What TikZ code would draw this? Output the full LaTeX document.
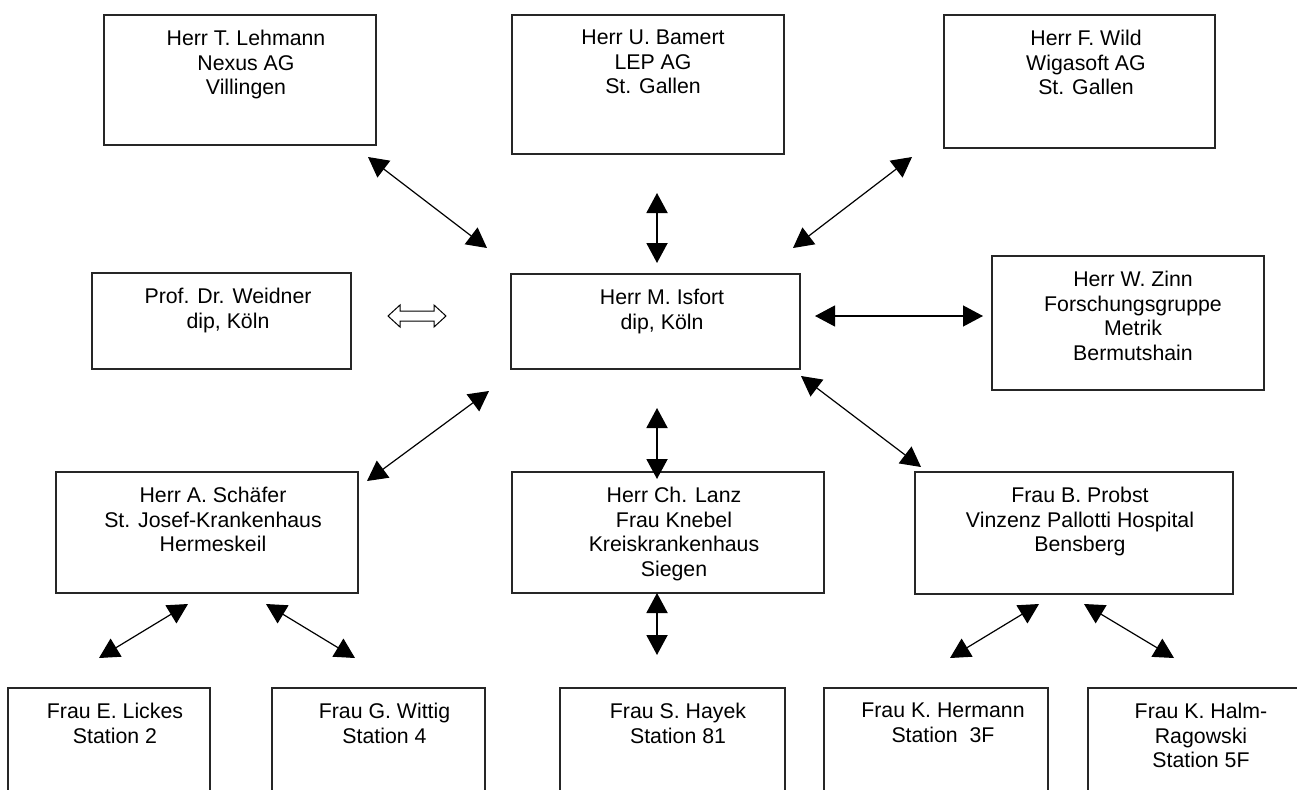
\documentclass[tikz,border=0pt]{standalone}
\usepackage{fontspec}
\setmainfont{Liberation Sans}
\usetikzlibrary{arrows.meta}
\tikzset{
  box/.style={draw=black!85, line width=1.2pt, rectangle, inner sep=0pt, fill=none},
  txt/.style={anchor=north, inner sep=0pt, align=center, font=\fontsize{21.3}{24.5}\selectfont},
  link/.style={line width=1.2pt, {Triangle[length=20pt,width=21pt]}-{Triangle[length=20pt,width=21pt]}},
  vlink/.style={line width=2pt, {Triangle[length=20pt,width=21pt]}-{Triangle[length=20pt,width=21pt]}}
}
\begin{document}
\begin{tikzpicture}[x=1pt,y=-1pt]
\path[use as bounding box] (0,0) rectangle (1297,789);
\clip (0,0) rectangle (1297,789);
% boxes
\node[box, minimum width=272pt, minimum height=130pt] (lehmann) at (240,80) {};
\node[box, minimum width=272pt, minimum height=139pt] (bamert) at (648,84.5) {};
\node[box, minimum width=271pt, minimum height=133pt] (wild) at (1079.5,81.5) {};
\node[box, minimum width=259pt, minimum height=96pt] (weidner) at (221.5,321) {};
\node[box, minimum width=289pt, minimum height=95pt] (isfort) at (655.5,321.5) {};
\node[box, minimum width=272pt, minimum height=134pt] (zinn) at (1128,323) {};
\node[box, minimum width=302pt, minimum height=121pt] (schaefer) at (207,532.5) {};
\node[box, minimum width=312pt, minimum height=121pt] (lanz) at (668,532.5) {};
\node[box, minimum width=318pt, minimum height=122pt] (probst) at (1074,533) {};
\node[box, minimum width=202pt, minimum height=122pt] (lickes) at (109,749) {};
\node[box, minimum width=213pt, minimum height=122pt] (wittig) at (378.5,749) {};
\node[box, minimum width=225pt, minimum height=122pt] (hayek) at (672.5,749) {};
\node[box, minimum width=224pt, minimum height=122pt] (hermann) at (936,749) {};
\node[box, minimum width=232pt, minimum height=122pt] (halm) at (1204,749) {};
% texts
\node[txt] (lehmann-t) at (246,30) {Herr T. Lehmann\\Nexus AG\\Villingen};
\node[txt] (bamert-t) at (653,30) {Herr U. Bamert\\LEP AG\\St. Gallen};
\node[txt] (wild-t) at (1086,30) {Herr F. Wild\\Wigasoft AG\\St. Gallen};
\node[txt] (weidner-t) at (228,288) {Prof. Dr. Weidner\\dip, Köln};
\node[txt] (isfort-t) at (662,289) {Herr M. Isfort\\dip, Köln};
\node[txt] (zinn-t) at (1133,271) {Herr W. Zinn\\Forschungsgruppe\\Metrik\\Bermutshain};
\node[txt] (schaefer-t) at (213,487) {Herr A. Schäfer\\St. Josef-Krankenhaus\\Hermeskeil};
\node[txt] (lanz-t) at (674,487) {Herr Ch. Lanz\\Frau Knebel\\Kreiskrankenhaus\\Siegen};
\node[txt] (probst-t) at (1080,487) {Frau B. Probst\\Vinzenz Pallotti Hospital\\Bensberg};
\node[txt] (lickes-t) at (115,703) {Frau E. Lickes\\Station 2};
\node[txt] (wittig-t) at (384.5,703) {Frau G. Wittig\\Station 4};
\node[txt] (hayek-t) at (678,703) {Frau S. Hayek\\Station 81};
\node[txt] (hermann-t) at (943,703) {Frau K. Hermann\\Station\ \ 3F};
\node[txt] (halm-t) at (1201,703) {Frau K. Halm-\\Ragowski\\Station 5F};
% arrow end points
\coordinate (a1) at (368,157); \coordinate (b1) at (487,248);
\coordinate (a2) at (657,193); \coordinate (b2) at (657,263);
\coordinate (a3) at (912,157); \coordinate (b3) at (793,248);
\coordinate (a4) at (815,316); \coordinate (b4) at (983,316);
\coordinate (a6) at (489,391); \coordinate (b6) at (367,481);
\coordinate (a7) at (657,408); \coordinate (b7) at (657,479);
\coordinate (a8) at (801,376); \coordinate (b8) at (921,467);
\coordinate (a9) at (188,604); \coordinate (b9) at (99,658);
\coordinate (a10) at (266,604); \coordinate (b10) at (355,658);
\coordinate (a11) at (657,593); \coordinate (b11) at (657,655);
\coordinate (a12) at (1039,604); \coordinate (b12) at (950,658);
\coordinate (a13) at (1084,604); \coordinate (b13) at (1174,658);
\draw[link] (a1) -- (b1);
\draw[vlink] (a2) -- (b2);
\draw[link] (a3) -- (b3);
\draw[link] (a4) -- (b4);
\draw[link] (a6) -- (b6);
\draw[vlink] (a7) -- (b7);
\draw[link] (a8) -- (b8);
\draw[link] (a9) -- (b9);
\draw[link] (a10) -- (b10);
\draw[vlink] (a11) -- (b11);
\draw[link] (a12) -- (b12);
\draw[link] (a13) -- (b13);
% hollow double arrow between Weidner and Isfort
\draw[line width=1pt, line join=miter] (388,316) -- (400,305) -- (400,311) -- (434,311) -- (434,305) -- (446,316) -- (434,327) -- (434,321) -- (400,321) -- (400,327) -- cycle;
\end{tikzpicture}
\end{document}
